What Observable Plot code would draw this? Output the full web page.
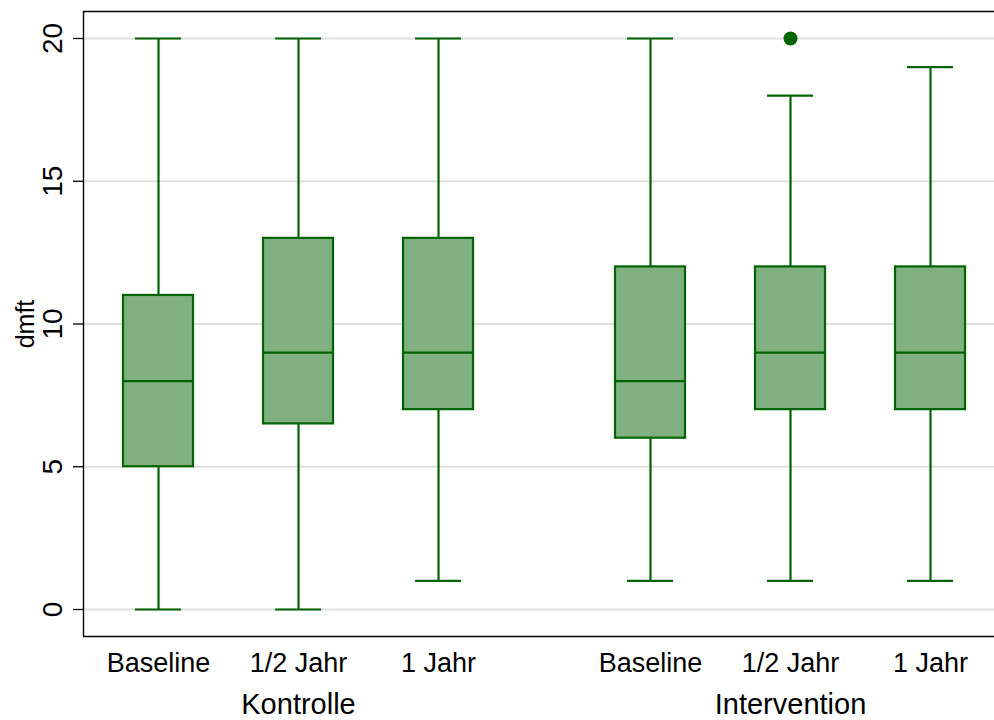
<!DOCTYPE html>
<html>
<head>
<meta charset="utf-8">
<script src="https://cdn.jsdelivr.net/npm/d3@7"></script>
<script src="https://cdn.jsdelivr.net/npm/@observablehq/plot@0.6"></script>
<style>
  html, body { margin: 0; padding: 0; background: #fff; }
  #chart svg { display: block; }
</style>
</head>
<body>
<div id="chart"></div>
<script>
// ---- data ----
const groups = ["Kontrolle", "Intervention"];
const timepoints = ["Baseline", "1/2 Jahr", "1 Jahr"];
const mins    = [0, 0,   1,  1,  1,  1];
const q1s     = [5, 6.5, 7,  6,  7,  7];
const medians = [8, 9,   9,  8,  9,  9];
const q3s     = [11, 13, 13, 12, 12, 12];
const maxs    = [20, 20, 20, 20, 18, 19];
const outlierGroups = ["Intervention"];
const outlierTimes  = ["1/2 Jahr"];
const outlierValues = [20];
const yTicks = [0, 5, 10, 15, 20];

// ---- layout constants ----
const groupOffset = 3.514;   // slot spacing between groups
const boxHalf = 0.25;
const capHalf = 0.164;
const tickLen = 10 / 140;
const green = "#006400";
const fill = "#80b080";
const font = "'Liberation Sans', Arial, Helvetica, sans-serif";

const pos = (g, t) => groups.indexOf(g) * groupOffset + timepoints.indexOf(t);

const boxes = [];
groups.forEach((g, gi) => timepoints.forEach((t, ti) => {
  const i = gi * timepoints.length + ti;
  boxes.push({group: g, time: t, x: pos(g, t), min: mins[i], q1: q1s[i], med: medians[i], q3: q3s[i], max: maxs[i]});
}));
const outliers = outlierValues.map((v, i) => ({x: pos(outlierGroups[i], outlierTimes[i]), value: v}));
const groupLabels = groups.map(g => ({label: g, x: pos(g, timepoints[1])}));

const xDomain = [-0.5357, 5.971];
const yDomain = [-0.946, 20.946];

const chart = Plot.plot({
  width: 994,
  height: 720,
  marginLeft: 83,
  marginRight: 0,
  marginTop: 11,
  marginBottom: 84,
  style: {fontFamily: font, background: "#fff"},
  x: {type: "linear", domain: xDomain, axis: null},
  y: {type: "linear", domain: yDomain, axis: null},
  marks: [
    // gridlines
    Plot.ruleY(yTicks, {y: d => d, x1: xDomain[0], x2: xDomain[1], stroke: "#e0e0e0", strokeWidth: 2}),
    // whiskers
    Plot.ruleX(boxes, {x: "x", y1: "q3", y2: "max", stroke: green, strokeWidth: 2.2}),
    Plot.ruleX(boxes, {x: "x", y1: "min", y2: "q1", stroke: green, strokeWidth: 2.2}),
    // caps
    Plot.ruleY(boxes, {y: "max", x1: d => d.x - capHalf, x2: d => d.x + capHalf, stroke: green, strokeWidth: 2.2}),
    Plot.ruleY(boxes, {y: "min", x1: d => d.x - capHalf, x2: d => d.x + capHalf, stroke: green, strokeWidth: 2.2}),
    // boxes
    Plot.rect(boxes, {x1: d => d.x - boxHalf, x2: d => d.x + boxHalf, y1: "q1", y2: "q3", fill: fill, stroke: green, strokeWidth: 2.2}),
    // medians
    Plot.ruleY(boxes, {y: "med", x1: d => d.x - boxHalf, x2: d => d.x + boxHalf, stroke: green, strokeWidth: 2.2}),
    // outliers
    Plot.dot(outliers, {x: "x", y: "value", r: 7, fill: green, stroke: "none"}),
    // frame: left, top, bottom
    Plot.ruleX([xDomain[0]], {x: d => d, y1: yDomain[0], y2: yDomain[1], stroke: "#000", strokeWidth: 1.4}),
    Plot.ruleY([yDomain[1]], {y: d => d, x1: xDomain[0], x2: xDomain[1], stroke: "#000", strokeWidth: 1.4}),
    Plot.ruleY([yDomain[0]], {y: d => d, x1: xDomain[0], x2: xDomain[1], stroke: "#000", strokeWidth: 1.4}),
    // y tick marks
    Plot.ruleY(yTicks, {y: d => d, x1: xDomain[0] - tickLen, x2: xDomain[0], stroke: "#000", strokeWidth: 1.3}),
    // y tick labels (rotated)
    Plot.text(yTicks, {y: d => d, x: xDomain[0], text: d => String(d), rotate: -90, dx: -30, fontSize: 28, fill: "#000", textAnchor: "middle"}),
    // y axis title
    Plot.text(["dmft"], {frameAnchor: "left", text: d => d, rotate: -90, dx: -58, fontSize: 25, fill: "#000", textAnchor: "middle"}),
    // x tick labels
    Plot.text(boxes, {x: "x", y: yDomain[0], text: "time", dy: 26.4, fontSize: 27, fill: "#000", textAnchor: "middle"}),
    // group titles
    Plot.text(groupLabels, {x: "x", y: yDomain[0], text: "label", dy: 68.7, fontSize: 29, fill: "#000", textAnchor: "middle"})
  ]
});

document.getElementById("chart").appendChild(chart);
</script>
</body>
</html>
